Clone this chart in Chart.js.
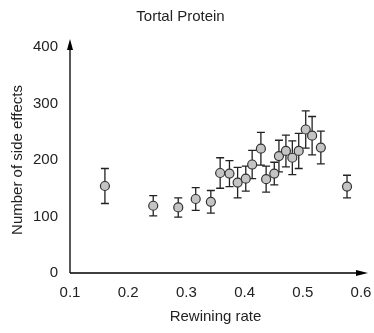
<!DOCTYPE html>
<html>
<head>
<meta charset="utf-8">
<script src="https://cdn.jsdelivr.net/npm/chart.js@4"></script>
<style>
  html, body { margin: 0; padding: 0; background: #fff; }
  #wrap { width: 374px; height: 333px; }
</style>
</head>
<body>
<div id="wrap"><canvas id="chart" width="374" height="333"></canvas></div>
<script>
// data
const rewiringRate = [0.160, 0.243, 0.286, 0.316, 0.342, 0.358, 0.374, 0.388, 0.402, 0.413, 0.428,
  0.437, 0.451, 0.459, 0.471, 0.482, 0.493, 0.505, 0.516, 0.531, 0.576];
const sideEffects = [154, 119, 116, 131, 126, 177, 176, 160, 167, 192, 220,
  166, 176, 207, 216, 204, 216, 254, 243, 222, 153];
const errorSize = [31, 18, 17, 20, 20, 27, 23, 27, 22, 25, 29,
  23, 20, 28, 28, 30, 31, 33, 34, 29, 20];
const xTicks = [0.1, 0.2, 0.3, 0.4, 0.5, 0.6];
const yTicks = [0, 100, 200, 300, 400];

const textColor = "#222";
const fontFamily = "'Liberation Sans', Arial, sans-serif";

// error bars, drawn under the markers
const errorBars = {
  id: "errorBars",
  beforeDatasetsDraw(chart) {
    const ctx = chart.ctx;
    const xs = chart.scales.x;
    const ys = chart.scales.y;
    ctx.save();
    ctx.strokeStyle = "#222";
    ctx.lineWidth = 1.3;
    for (let i = 0; i < rewiringRate.length; i++) {
      const px = xs.getPixelForValue(rewiringRate[i]);
      const top = ys.getPixelForValue(sideEffects[i] + errorSize[i]);
      const bot = ys.getPixelForValue(sideEffects[i] - errorSize[i]);
      ctx.beginPath();
      ctx.moveTo(px, top); ctx.lineTo(px, bot);
      ctx.moveTo(px - 4, top); ctx.lineTo(px + 4, top);
      ctx.moveTo(px - 4, bot); ctx.lineTo(px + 4, bot);
      ctx.stroke();
    }
    ctx.restore();
  }
};

// axis lines with arrow heads
const axisArrows = {
  id: "axisArrows",
  afterDraw(chart) {
    const { left, right, top, bottom } = chart.chartArea;
    const ctx = chart.ctx;
    ctx.save();
    ctx.strokeStyle = "#000";
    ctx.fillStyle = "#000";
    ctx.lineWidth = 1.3;
    ctx.beginPath();
    ctx.moveTo(left, bottom); ctx.lineTo(left, top - 2);
    ctx.moveTo(left, bottom); ctx.lineTo(right + 2, bottom);
    ctx.stroke();
    // up arrow
    ctx.beginPath();
    ctx.moveTo(left, top - 8);
    ctx.lineTo(left - 3, top + 3);
    ctx.lineTo(left + 3, top + 3);
    ctx.closePath();
    ctx.fill();
    // right arrow
    ctx.beginPath();
    ctx.moveTo(right + 7, bottom);
    ctx.lineTo(right - 5, bottom - 3);
    ctx.lineTo(right - 5, bottom + 3);
    ctx.closePath();
    ctx.fill();
    ctx.restore();
  }
};

const points = rewiringRate.map((x, i) => ({ x: x, y: sideEffects[i] }));

new Chart(document.getElementById("chart"), {
  type: "scatter",
  data: {
    datasets: [{
      label: "Tortal Protein",
      data: points,
      pointRadius: 4.5,
      pointHoverRadius: 4.5,
      pointBackgroundColor: "#c4c4c4",
      pointBorderColor: "#333",
      pointBorderWidth: 1.2,
    }],
  },
  options: {
    responsive: false,
    animation: false,
    events: [],
    layout: { padding: { left: 0, right: 13, top: 0, bottom: 0 } },
    plugins: {
      legend: { display: false },
      tooltip: { enabled: false },
      title: {
        display: true,
        text: "Tortal Protein",
        color: textColor,
        font: { family: fontFamily, size: 15, weight: "normal" },
        padding: { top: 8, bottom: 21 },
      },
    },
    scales: {
      x: {
        type: "linear",
        min: 0.1,
        max: 0.6,
        afterBuildTicks(scale) { scale.ticks = xTicks.map((v) => ({ value: v })); },
        afterFit(scale) {
          scale.height = 60;
          scale.paddingLeft = 0;
          scale.paddingRight = 0;
        },
        grid: { display: false, drawTicks: false },
        border: { display: false },
        ticks: {
          color: textColor,
          padding: 11,
          font: { family: fontFamily, size: 15 },
          callback: (v) => v.toFixed(1),
        },
        title: {
          display: true,
          text: "Rewining rate",
          color: textColor,
          font: { family: fontFamily, size: 15 },
          padding: { top: 0, bottom: 7 },
        },
      },
      y: {
        type: "linear",
        min: 0,
        max: 400,
        afterBuildTicks(scale) { scale.ticks = yTicks.map((v) => ({ value: v })); },
        afterFit(scale) { scale.width = 70; },
        grid: { display: false, drawTicks: false },
        border: { display: false },
        ticks: {
          color: textColor,
          padding: 12,
          font: { family: fontFamily, size: 15 },
        },
        title: {
          display: true,
          text: "Number of side effects",
          color: textColor,
          font: { family: fontFamily, size: 15 },
          padding: { top: 9, bottom: 0 },
        },
      },
    },
  },
  plugins: [errorBars, axisArrows],
});
</script>
</body>
</html>
